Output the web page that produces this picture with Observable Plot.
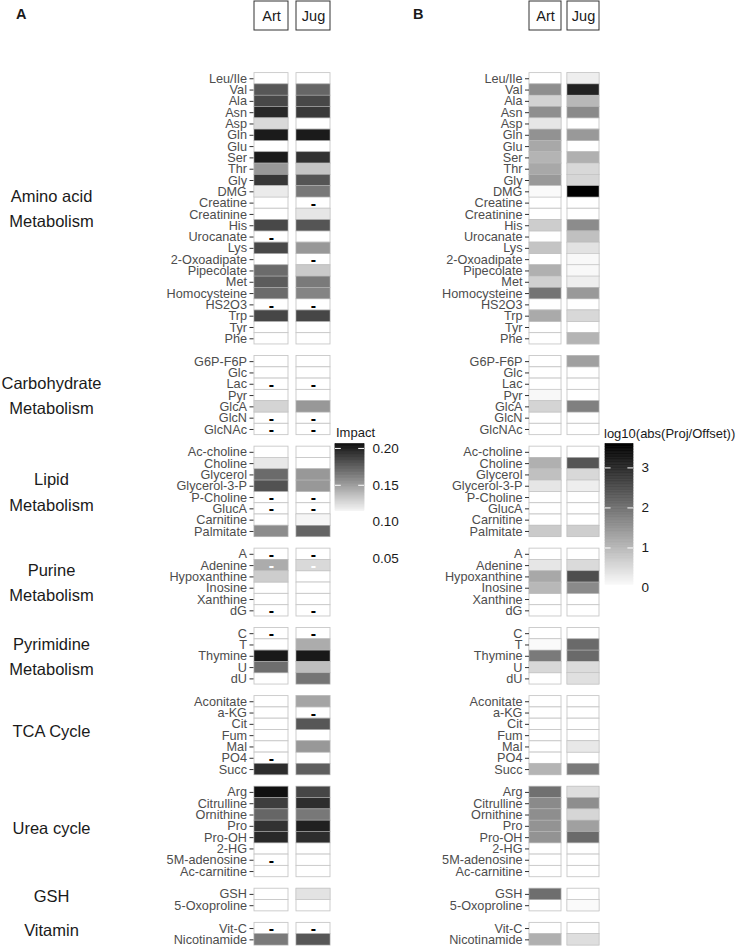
<!DOCTYPE html>
<html>
<head>
<meta charset="utf-8">
<script src="https://cdn.jsdelivr.net/npm/d3@7"></script>
<script src="https://cdn.jsdelivr.net/npm/@observablehq/plot@0.6"></script>
<style>
  body { margin: 0; background: #fff; }
  #root { position: relative; width: 741px; height: 946px; overflow: hidden;
          font-family: "Liberation Sans", Arial, Helvetica, sans-serif; background: #fff; }
  .lbl { position: absolute; line-height: 1; white-space: nowrap; color: #1a1a1a; }
</style>
</head>
<body>
<div id="root"></div>
<script>
// ---------------- data ----------------
const columns = ["Art", "Jug"];
const groupNames = ["Amino acid\nMetabolism", "Carbohydrate\nMetabolism", "Lipid\nMetabolism",
  "Purine\nMetabolism", "Pyrimidine\nMetabolism", "TCA Cycle", "Urea cycle", "GSH", "Vitamin"];

const aminoAcids = ["Leu/Ile", "Val", "Ala", "Asn", "Asp", "Gln", "Glu", "Ser", "Thr", "Gly", "DMG",
  "Creatine", "Creatinine", "His", "Urocanate", "Lys", "2-Oxoadipate", "Pipecolate", "Met",
  "Homocysteine", "HS2O3", "Trp", "Tyr", "Phe"];
const carbohydrates = ["G6P-F6P", "Glc", "Lac", "Pyr", "GlcA", "GlcN", "GlcNAc"];
const lipids = ["Ac-choline", "Choline", "Glycerol", "Glycerol-3-P", "P-Choline", "GlucA", "Carnitine", "Palmitate"];
const purines = ["A", "Adenine", "Hypoxanthine", "Inosine", "Xanthine", "dG"];
const pyrimidines = ["C", "T", "Thymine", "U", "dU"];
const tcaCycle = ["Aconitate", "a-KG", "Cit", "Fum", "Mal", "PO4", "Succ"];
const ureaCycle = ["Arg", "Citrulline", "Ornithine", "Pro", "Pro-OH", "2-HG", "5M-adenosine", "Ac-carnitine"];
const gshGroup = ["GSH", "5-Oxoproline"];
const vitamins = ["Vit-C", "Nicotinamide"];
const groupMembers = [aminoAcids, carbohydrates, lipids, purines, pyrimidines, tcaCycle, ureaCycle, gshGroup, vitamins];

// Panel A: Impact (null = no value)
const impactArt = [
  null, 0.178, 0.184, 0.197, 0.126, 0.202, null, 0.202, 0.152, 0.191, 0.119, null, null, 0.184, null, 0.184, null, 0.170, 0.176, 0.170, null, 0.185, null, null,
  null, null, null, null, 0.128, null, null,
  null, 0.120, 0.170, 0.180, null, null, null, 0.157,
  null, 0.144, 0.131, null, null, null,
  null, null, 0.203, 0.169, null,
  null, null, null, null, null, null, 0.195,
  0.206, 0.188, 0.172, 0.193, 0.197, null, null, null,
  null, null,
  null, 0.164];
const impactJug = [
  null, 0.172, 0.184, 0.190, null, 0.202, null, 0.193, 0.134, 0.179, 0.165, null, 0.121, 0.179, null, 0.152, null, 0.132, 0.164, 0.160, null, 0.185, null, null,
  null, null, null, null, 0.152, null, null,
  null, null, 0.152, 0.152, null, null, 0.115, 0.173,
  null, 0.126, null, null, null, null,
  null, 0.144, 0.203, 0.137, 0.166,
  0.147, null, 0.178, null, 0.152, null, 0.175,
  0.185, 0.195, 0.165, 0.200, 0.195, null, null, null,
  0.122, null,
  null, 0.178];
const dashArt = ["Urocanate", "HS2O3", "Lac", "GlcN", "GlcNAc", "P-Choline", "GlucA", "A", "Adenine", "dG", "C", "PO4", "5M-adenosine", "Vit-C"];
const dashJug = ["Creatine", "2-Oxoadipate", "HS2O3", "Lac", "GlcN", "GlcNAc", "P-Choline", "GlucA", "A", "Adenine", "dG", "C", "a-KG", "Vit-C"];

// Panel B: log10(abs(Proj/Offset))
const projArt = [
  null, 1.60, 0.64, 1.60, 0.35, 1.54, 1.23, 1.06, 1.23, 1.44, 0.07, null, null, 0.71, null, 0.83, null, 1.12, 0.66, 1.96, null, 1.20, null, null,
  null, null, null, 0.10, 0.61, null, null,
  null, 1.12, 0.89, 0.35, null, null, null, 0.75,
  null, 0.35, 1.23, 1.00, null, null,
  null, 0.07, 1.88, 0.55, null,
  null, null, null, null, null, null, 1.06,
  2.02, 1.65, 1.60, 1.52, 1.52, null, null, null,
  2.05, null,
  null, 1.12];
const projJug = [
  0.24, 3.12, 1.00, 1.65, null, 1.44, null, 1.12, 0.55, 0.58, 3.60, null, null, 1.62, 0.89, 0.41, 0.10, 0.10, 0.24, 1.44, null, 0.55, null, 1.06,
  1.34, null, null, null, 1.79, null, null,
  null, 2.40, 0.55, 0.24, null, null, null, 0.69,
  null, 0.52, 2.50, 1.65, null, null,
  null, 2.10, 2.10, 0.49, 0.44,
  null, null, null, null, 0.32, null, 1.88,
  0.47, 1.60, 0.58, 1.34, 2.10, null, null, null,
  null, 0.07,
  null, 0.47];

const impactTicks = [0.05, 0.10, 0.15, 0.20];
const projTicks = [0, 1, 2, 3];

// ---------------- layout helpers ----------------
const FONT = '"Liberation Sans", Arial, Helvetica, sans-serif';
const GAP = 1.02;          // spacing between groups, in rows
const MT = 72.6, MB = 1.0; // vertical margins of the heatmap panels
const rows = [];
let k = 0;
groupMembers.forEach((members, g) => members.forEach(name => { rows.push({name, group: g, pos: k + g * GAP}); k++; }));
const T = k + (groupMembers.length - 1) * GAP;
const nameAt = new Map(rows.map(r => [r.pos + 0.5, r.name]));
const posOf = new Map(rows.map(r => [r.name, r.pos]));

function makeCells(art, jug) {
  return rows.flatMap((r, i) => [
    {col: "Art", name: r.name, y0: r.pos, y1: r.pos + 1, value: art[i]},
    {col: "Jug", name: r.name, y0: r.pos, y1: r.pos + 1, value: jug[i]}
  ]);
}
function makeDashes(cells, list, col) {
  return list.map(name => {
    const c = cells.find(d => d.col === col && d.name === name);
    return {col, yc: posOf.get(name) + 0.5, filled: c.value != null};
  });
}

const root = document.getElementById("root");
function place(el, left, top) {
  el.style.position = "absolute"; el.style.left = left + "px"; el.style.top = top + "px";
  root.appendChild(el);
}
function label(text, left, top, size, weight) {
  const d = document.createElement("div");
  d.className = "lbl"; d.textContent = text;
  d.style.left = left + "px"; d.style.top = top + "px";
  d.style.fontSize = size + "px"; d.style.fontWeight = weight || "normal";
  root.appendChild(d);
}
const style = size => ({background: "transparent", overflow: "visible", fontFamily: FONT, fontSize: size + "px"});

function panel(cfg) {
  const cells = cfg.cells;
  const xOpts = {type: "band", domain: columns, paddingInner: cfg.pad, paddingOuter: 0, axis: null};
  const main = Plot.plot({
    width: cfg.width, height: 946,
    marginTop: MT, marginBottom: MB, marginLeft: cfg.marginLeft, marginRight: cfg.marginRight,
    style: style(12.7),
    x: xOpts,
    y: {domain: [0, T], reverse: true},
    color: cfg.color,
    marks: [
      Plot.barY(cells, {x: "col", y1: "y0", y2: "y1", fill: "white", stroke: "#c8c8c8", strokeWidth: 0.9, inset: 0}),
      Plot.barY(cells.filter(d => d.value != null), {x: "col", y1: "y0", y2: "y1", fill: "value",
        stroke: "#bdbdbd", strokeWidth: 0.6, strokeOpacity: 0.8, inset: 0}),
      Plot.text(cfg.dashes.filter(d => !d.filled), {x: "col", y: "yc", text: () => "-", fill: "black", fontSize: 16, fontWeight: "bold", dy: 0.5}),
      Plot.text(cfg.dashes.filter(d => d.filled), {x: "col", y: "yc", text: () => "-", fill: "white", fontSize: 16, fontWeight: "bold", dy: 0.5}),
      Plot.axisY({ticks: rows.map(r => r.pos + 0.5), tickFormat: d => nameAt.get(d), tickSize: 4, tickPadding: 3,
        stroke: "#333", fill: "#4d4d4d", label: null})
    ]
  });
  place(main, cfg.left, 0);
  const strip = Plot.plot({
    width: cfg.width, height: 31, marginTop: 1, marginBottom: 1,
    marginLeft: cfg.marginLeft, marginRight: cfg.marginRight,
    style: style(14.5),
    x: xOpts,
    marks: [
      Plot.cell(columns, {x: d => d, fill: "white", stroke: "#333", strokeWidth: 1, inset: 0}),
      Plot.text(columns, {x: d => d, text: d => d, fontSize: 14.5, fill: "#1a1a1a"})
    ]
  });
  place(strip, cfg.left, 0);
}

function colorbar(cfg) {
  const [lo, hi] = cfg.extent;
  const n = 90, step = (hi - lo) / n;
  const slices = d3.range(n).map(i => lo + i * step);
  const inBar = cfg.ticks.filter(t => t >= lo && t <= hi);
  const svg = Plot.plot({
    width: cfg.width, height: cfg.height, marginTop: cfg.mt, marginBottom: cfg.mb,
    marginLeft: 5, marginRight: cfg.width - 5 - cfg.barWidth,
    style: style(13.5),
    x: {domain: [0, 1], axis: null},
    y: {domain: cfg.yDomain},
    color: cfg.color,
    marks: [
      Plot.rect(slices, {x1: 0, x2: 1, y1: d => d, y2: d => d + step, fill: d => d + step / 2,
        stroke: d => d + step / 2, strokeWidth: 0.6, inset: 0}),
      Plot.ruleY(inBar, {y: d => d, x1: 0, x2: 0.2, stroke: "white", strokeWidth: 1}),
      Plot.ruleY(inBar, {y: d => d, x1: 0.8, x2: 1, stroke: "white", strokeWidth: 1}),
      Plot.axisY({anchor: "right", ticks: cfg.ticks, tickFormat: cfg.format, tickSize: 0, tickPadding: 8,
        fill: "#1a1a1a", label: null})
    ]
  });
  place(svg, cfg.left, cfg.top);
}

// ---------------- panel A ----------------
const cellsA = makeCells(impactArt, impactJug);
const impactExtent = d3.extent(cellsA, d => d.value);
const colorA = {type: "linear", domain: impactExtent, range: ["#f5f5f5", "#111111"], interpolate: d3.interpolateRgb, clamp: true};
panel({
  left: 0, width: 335, marginLeft: 253.5, marginRight: 4.5, pad: 0.182,
  cells: cellsA, color: colorA,
  dashes: [...makeDashes(cellsA, dashArt, "Art"), ...makeDashes(cellsA, dashJug, "Jug")]
});

// group labels (left of panel A)
const groupInfo = groupMembers.map((m, g) => ({name: groupNames[g], center: posOf.get(m[0]) + m.length / 2}));
const groupPlot = Plot.plot({
  width: 102, height: 946, marginTop: MT, marginBottom: MB, marginLeft: 0, marginRight: 0,
  style: style(16.5),
  y: {domain: [0, T], reverse: true, axis: null},
  marks: [
    Plot.text(groupInfo.filter(d => d.name.includes("\n")), {y: "center", text: "name", fontSize: 16.5, lineHeight: 1.53, fill: "#1a1a1a", dy: -2}),
    Plot.text(groupInfo.filter(d => !d.name.includes("\n")), {y: "center", text: "name", fontSize: 16.5, fill: "#1a1a1a", dy: -3.5})
  ]
});
place(groupPlot, 0, 0);

// legend A
colorbar({
  left: 330, top: 440, width: 84, height: 128, mt: 3.5, mb: 9.5, barWidth: 29,
  extent: impactExtent, yDomain: [0.05, impactExtent[1]], ticks: impactTicks,
  format: d3.format(".2f"), color: colorA
});
label("Impact", 336, 426, 13);

// ---------------- panel B ----------------
const cellsB = makeCells(projArt, projJug);
const projExtent = d3.extent(cellsB, d => d.value);
const colorB = {type: "linear", domain: [0, projExtent[1]], range: ["#ffffff", "#000000"], interpolate: d3.interpolateRgb, clamp: true};
panel({
  left: 440, width: 162, marginLeft: 89, marginRight: 2.5, pad: 0.157,
  cells: cellsB, color: colorB, dashes: []
});

// legend B
colorbar({
  left: 600, top: 440, width: 83, height: 157, mt: 3.4, mb: 9.5, barWidth: 28,
  extent: projExtent, yDomain: [0, projExtent[1]], ticks: projTicks,
  format: d => String(d), color: colorB
});
label("log10(abs(Proj/Offset))", 604, 427, 13);

// panel letters
label("A", 16, 7, 14.5, "bold");
label("B", 413, 7, 14.5, "bold");
</script>
</body>
</html>
